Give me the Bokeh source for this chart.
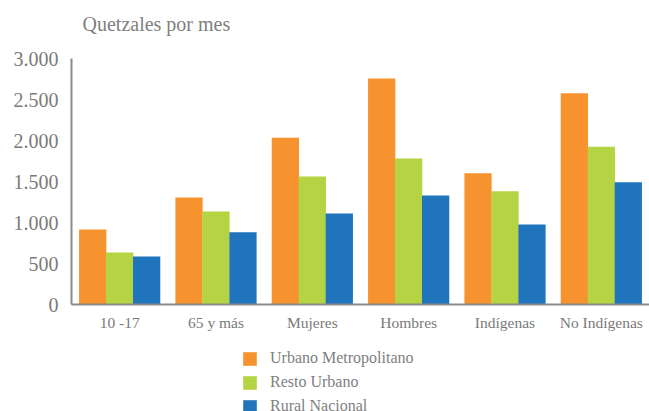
from bokeh.plotting import figure
from bokeh.layouts import column
from bokeh.models import (FactorRange, Range1d, Legend, LegendItem, FixedTicker,
                          ColumnDataSource, Label)
from bokeh.transform import dodge
from bokeh.embed import file_html
from bokeh.resources import INLINE

categories = ["10 -17", "65 y más", "Mujeres", "Hombres", "Indígenas", "No Indígenas"]
urbano_metropolitano = [915, 1305, 2035, 2755, 1600, 2575]
resto_urbano = [635, 1135, 1560, 1780, 1380, 1925]
rural_nacional = [585, 880, 1110, 1330, 975, 1490]
series_names = ["Urbano Metropolitano", "Resto Urbano", "Rural Nacional"]
y_ticks = [0, 500, 1000, 1500, 2000, 2500, 3000]
y_tick_labels = ["0", "500", "1.000", "1.500", "2.000", "2.500", "3.000"]
unit_label = "Quetzales por mes"

colors = ["#F7932F", "#B4D444", "#2074BC"]
FONT = "Liberation Serif"
GRAY = "#7a7a7a"

source = ColumnDataSource(data=dict(cat=categories, um=urbano_metropolitano,
                                    ru=resto_urbano, rn=rural_nacional))
cols = ["um", "ru", "rn"]


def strip(h):
    f = figure(width=649, height=h, output_backend="svg", toolbar_location=None,
               x_range=Range1d(0, 1), y_range=Range1d(0, 1),
               x_axis_type=None, y_axis_type=None,
               min_border_left=0, min_border_right=0, min_border_top=0, min_border_bottom=0)
    f.outline_line_color = None
    f.xgrid.visible = False
    f.ygrid.visible = False
    return f


# title strip (frames are aligned by the column, so x is measured from the plot's left edge)
top = strip(40)
top.add_layout(Label(x=11, y=17, x_units="screen", y_units="screen", text=unit_label,
                     text_font=FONT, text_font_size="20px", text_color="#808080",
                     text_baseline="middle"))

# main chart
p = figure(width=649, height=300, output_backend="svg", toolbar_location=None,
           x_range=FactorRange(factors=categories, range_padding=0),
           y_range=Range1d(0, 3000),
           min_border_left=71, min_border_right=0, min_border_top=18, min_border_bottom=36)

bw = 0.283
for col, off, c in zip(cols, [-0.28, 0.0, 0.28], colors):
    p.vbar(x=dodge("cat", off, range=p.x_range), top=col, width=bw, source=source,
           fill_color=c, line_color=None)

p.xgrid.visible = False
p.ygrid.visible = False
p.outline_line_color = None

for ax in (p.xaxis[0], p.yaxis[0]):
    ax.axis_line_color = "#8a8a8a"
    ax.axis_line_width = 2
    ax.major_tick_line_color = None
    ax.minor_tick_line_color = None
    ax.major_tick_out = 0
    ax.major_tick_in = 0
    ax.major_label_text_font = FONT
    ax.major_label_text_color = GRAY

p.yaxis[0].ticker = FixedTicker(ticks=y_ticks)
p.yaxis[0].major_label_overrides = dict(zip(y_ticks, y_tick_labels))
p.yaxis[0].major_label_text_font_size = "20px"
p.yaxis[0].major_label_standoff = 13

p.xaxis[0].major_label_text_font_size = "15.5px"
p.xaxis[0].major_label_standoff = 9

# legend strip below the chart
lg = strip(71)
keys = [lg.vbar(x=0.5, top=col, width=0.1, source=source, fill_color=c,
                line_color=None, visible=False) for col, c in zip(cols, colors)]

legend = Legend(items=[LegendItem(label=n, renderers=[r]) for n, r in zip(series_names, keys)],
                location=(170, -4), orientation="vertical",
                glyph_width=17, glyph_height=17, label_height=17,
                label_standoff=12, spacing=6, padding=0, margin=0,
                inactive_fill_alpha=0, click_policy="none",
                border_line_color=None, background_fill_alpha=0, label_text_font=FONT,
                label_text_font_size="16px", label_text_color="#808080")
lg.add_layout(legend, "center")

open("out.html", "w").write(file_html(column(top, p, lg, spacing=0), INLINE))
